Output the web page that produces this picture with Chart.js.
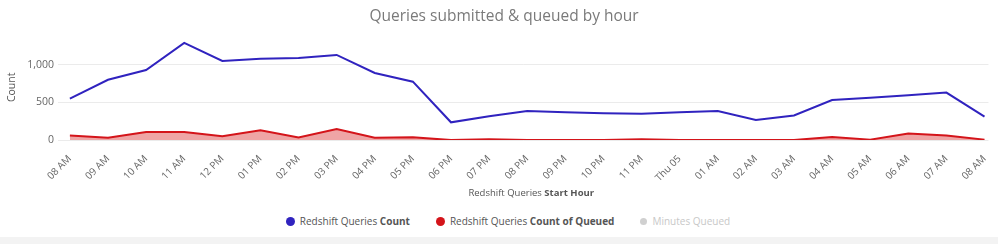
<!DOCTYPE html>
<html>
<head>
<meta charset="utf-8">
<script src="https://cdn.jsdelivr.net/npm/chart.js@4.4.1/dist/chart.umd.min.js"></script>
<style>
  body { margin: 0; background: #fff; font-family: 'Open Sans', sans-serif; }
  #wrap { position: relative; width: 998px; height: 244px; overflow: hidden; }
  #box { position: absolute; left: 0; top: 0; width: 998px; height: 205px; }
  #legend { position: absolute; left: 0; top: 214px; width: 1016px; text-align: center; font-size: 10px; color: #555; white-space: nowrap; }
  #legend span.item { display: inline-block; margin: 0 13px; }
  #legend i { display: inline-block; width: 9px; height: 9px; border-radius: 50%; margin-right: 5px; vertical-align: -1px; }
  #legend .off { color: #c8c8c8; }
  #legend .off i { width: 7px; height: 7px; vertical-align: 0px; }
  #band { position: absolute; left: 0; top: 237px; width: 998px; height: 7px; background: #f3f3f3; }
</style>
</head>
<body>
<div id="wrap">
  <div id="box"><canvas id="chart"></canvas></div>
  <div id="legend"></div>
  <div id="band"></div>
</div>
<script>
const hours = ['08 AM', '09 AM', '10 AM', '11 AM', '12 PM', '01 PM', '02 PM', '03 PM', '04 PM', '05 PM', '06 PM', '07 PM',
    '08 PM', '09 PM', '10 PM', '11 PM', 'Thu 05', '01 AM', '02 AM', '03 AM', '04 AM', '05 AM', '06 AM', '07 AM', '08 AM'];
const queryCount = [550, 800, 930, 1290, 1050, 1080, 1090, 1130, 890, 775, 235, 315,
    385, 370, 355, 350, 370, 385, 265, 325, 530, 560, 595, 630, 310];
const queuedCount = [60, 30, 105, 105, 50, 130, 35, 145, 30, 35, 0, 10,
    0, 0, 0, 10, 0, 0, 0, 0, 40, 5, 85, 60, 5];
const minutesQueued = [];
const yTicks = [0, 500, 1000];

const toPoints = arr => arr.map((v, i) => ({ x: i, y: v }));

// x axis title with the bold part, drawn under the rotated labels
const xTitle = {
    id: 'xTitle',
    afterDraw(chart) {
        let ctx = chart.ctx;
        let a = 'Redshift Queries ', b = 'Start Hour';
        ctx.save();
        ctx.font = '9.5px "Open Sans"';
        let wa = ctx.measureText(a).width;
        ctx.font = 'bold 9.5px "Open Sans"';
        let wb = ctx.measureText(b).width;
        let x = (chart.chartArea.left + chart.chartArea.right) / 2 + 8 - (wa + wb) / 2;
        let y = 193;
        ctx.textBaseline = 'middle';
        ctx.fillStyle = '#555';
        ctx.font = '9.5px "Open Sans"';
        ctx.fillText(a, x, y);
        ctx.font = 'bold 9.5px "Open Sans"';
        ctx.fillText(b, x + wa, y);
        ctx.restore();
    }
};

let context = document.getElementById('chart').getContext('2d');
let chart = new Chart(context, {
    type: 'line',
    data: {
        datasets: [{
            label: ['Redshift Queries ', 'Count'],
            data: toPoints(queryCount),
            borderColor: '#3023bf',
            backgroundColor: '#3023bf',
            borderWidth: 2,
            pointRadius: 0,
            tension: 0,
            fill: false
        }, {
            label: ['Redshift Queries ', 'Count of Queued'],
            data: toPoints(queuedCount),
            borderColor: '#d4141a',
            backgroundColor: 'rgba(214, 30, 30, 0.4)',
            borderWidth: 2,
            pointRadius: 0,
            tension: 0,
            fill: 'origin'
        }, {
            label: ['', 'Minutes Queued'],
            data: toPoints(minutesQueued),
            borderColor: '#999',
            backgroundColor: '#999',
            hidden: true
        }]
    },
    options: {
        responsive: true,
        maintainAspectRatio: false,
        animation: false,
        layout: { padding: { left: 12, right: 2, top: 0, bottom: 0 } },
        plugins: {
            legend: { display: false },
            tooltip: { enabled: false },
            title: {
                display: true,
                text: 'Queries submitted & queued by hour',
                color: '#7a7a7a',
                font: { family: 'Open Sans', size: 15.5, weight: 'normal' },
                padding: { top: 7, bottom: 9 }
            }
        },
        scales: {
            x: {
                type: 'linear',
                min: -0.312,
                max: 24.104,
                grid: { display: false },
                border: { display: false },
                afterBuildTicks: s => { s.ticks = hours.map((h, i) => ({ value: i })); },
                afterFit: s => { s.height = 65; },
                ticks: {
                    autoSkip: false,
                    minRotation: 45,
                    maxRotation: 45,
                    padding: 5,
                    color: '#666',
                    font: { family: 'Open Sans', size: 10 },
                    callback: v => hours[v]
                }
            },
            y: {
                min: 0,
                max: 1400,
                border: { display: false },
                grid: { color: '#ebebeb', drawTicks: false },
                afterBuildTicks: s => { s.ticks = yTicks.map(v => ({ value: v })); },
                afterFit: s => { s.width = 46; },
                ticks: {
                    padding: 4,
                    color: '#666',
                    font: { family: 'Open Sans', size: 10.5 }
                },
                title: {
                    display: true,
                    text: 'Count',
                    color: '#555',
                    font: { family: 'Open Sans', size: 10.5 },
                    padding: { top: -6, bottom: 0 }
                }
            }
        }
    },
    plugins: [xTitle]
});

// html legend, so the bold half of each label can stay real text
let legend = document.getElementById('legend');
chart.data.datasets.forEach(ds => {
    let item = document.createElement('span');
    item.className = 'item' + (ds.hidden ? ' off' : '');
    let dot = document.createElement('i');
    dot.style.background = ds.hidden ? '#d0d0d0' : ds.borderColor;
    item.appendChild(dot);
    item.appendChild(document.createTextNode(ds.label[0]));
    if (ds.hidden) {
        item.appendChild(document.createTextNode(ds.label[1]));
    } else {
        let b = document.createElement('b');
        b.textContent = ds.label[1];
        item.appendChild(b);
    }
    legend.appendChild(item);
});
</script>
</body>
</html>
